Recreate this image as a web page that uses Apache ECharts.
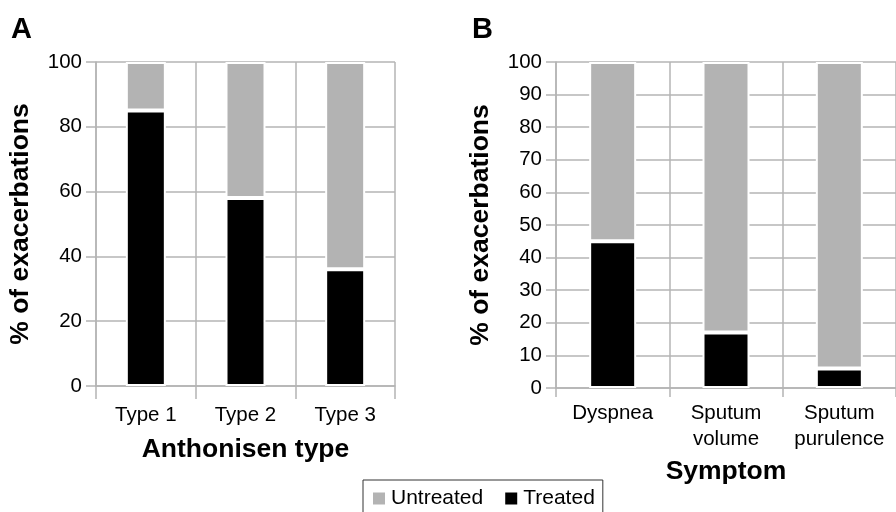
<!DOCTYPE html>
<html>
<head>
<meta charset="utf-8">
<script src="https://cdn.jsdelivr.net/npm/echarts@6/dist/echarts.min.js"></script>
<style>
html,body{margin:0;padding:0;background:#fff;}
#c{width:896px;height:512px;}
</style>
</head>
<body>
<div id="c"></div>
<script>
var typeCategories = ['Type 1', 'Type 2', 'Type 3'];
var typeTreated = [85, 58, 36];
var typeUntreated = [15, 42, 64];

var symptomCategories = ['Dyspnea', 'Sputum\nvolume', 'Sputum\npurulence'];
var symptomTreated = [45, 17, 6];
var symptomUntreated = [55, 83, 94];

var ticksA = [0, 20, 40, 60, 80, 100];
var ticksB = [0, 10, 20, 30, 40, 50, 60, 70, 80, 90, 100];

var FONT = 'Liberation Sans, Arial, sans-serif';
var GRID = '#b4b4b4';
var GRAY = '#b3b3b3';

function xAxisCfg(idx, cats, name, gap, tickLen, margin) {
  return {
    type: 'category', gridIndex: idx, data: cats,
    name: name, nameLocation: 'middle', nameGap: gap,
    nameTextStyle: {fontFamily: FONT, fontSize: 26.5, fontWeight: 'bold', color: '#000'},
    axisLine: {show: true, lineStyle: {color: GRID, width: 1.5}},
    axisTick: {show: true, length: tickLen, lineStyle: {color: GRID, width: 1.5}},
    axisLabel: {fontFamily: FONT, fontSize: 20.5, color: '#000', margin: margin, lineHeight: 26, interval: 0},
    splitLine: {show: true, lineStyle: {color: GRID, width: 1.5}}
  };
}
function yAxisCfg(idx, ticks) {
  return {
    type: 'value', gridIndex: idx, min: ticks[0], max: ticks[ticks.length - 1],
    interval: ticks[1] - ticks[0],
    name: '% of exacerbations', nameLocation: 'middle', nameGap: 62,
    nameTextStyle: {fontFamily: FONT, fontSize: 26.5, fontWeight: 'bold', color: '#000'},
    axisLine: {show: true, lineStyle: {color: GRID, width: 1.5}},
    axisTick: {show: true, length: 10, lineStyle: {color: GRID, width: 1.5}},
    axisLabel: {fontFamily: FONT, fontSize: 20.5, color: '#000', margin: 14},
    splitLine: {show: true, lineStyle: {color: GRID, width: 1.5}}
  };
}
function barSeries(name, data, idx, color, stack, w) {
  return {
    name: name, type: 'bar', stack: stack, data: data,
    xAxisIndex: idx, yAxisIndex: idx, barWidth: w,
    itemStyle: {color: color, borderColor: '#fff', borderWidth: 2},
    animation: false
  };
}

var chart = echarts.init(document.getElementById('c'));
chart.setOption({
  backgroundColor: '#fff',
  animation: false,
  title: [
    {text: 'A', left: 6, top: 10, textStyle: {fontFamily: FONT, fontSize: 29, fontWeight: 'bold', color: '#000'}},
    {text: 'B', left: 467, top: 10, textStyle: {fontFamily: FONT, fontSize: 29, fontWeight: 'bold', color: '#000'}}
  ],
  legend: {
    data: [{name: 'Untreated', icon: 'rect'}, {name: 'Treated', icon: 'rect'}],
    left: 363, top: 480, orient: 'horizontal',
    itemWidth: 14, itemHeight: 14, itemGap: 20,
    borderColor: '#333', borderWidth: 1, padding: [8, 8, 12, 8],
    textStyle: {fontFamily: FONT, fontSize: 21, color: '#000'}
  },
  grid: [
    {left: 96, top: 62, width: 299, height: 324},
    {left: 556, top: 62, width: 349, height: 326}
  ],
  xAxis: [
    xAxisCfg(0, typeCategories, 'Anthonisen type', 50, 13, 16),
    xAxisCfg(1, symptomCategories, 'Symptom', 70, 9, 12)
  ],
  yAxis: [yAxisCfg(0, ticksA), yAxisCfg(1, ticksB)],
  series: [
    barSeries('Treated', typeTreated, 0, '#000', 'a', 40),
    barSeries('Untreated', typeUntreated, 0, GRAY, 'a', 40),
    barSeries('Treated', symptomTreated, 1, '#000', 'b', 47),
    barSeries('Untreated', symptomUntreated, 1, GRAY, 'b', 47)
  ]
});
</script>
</body>
</html>
